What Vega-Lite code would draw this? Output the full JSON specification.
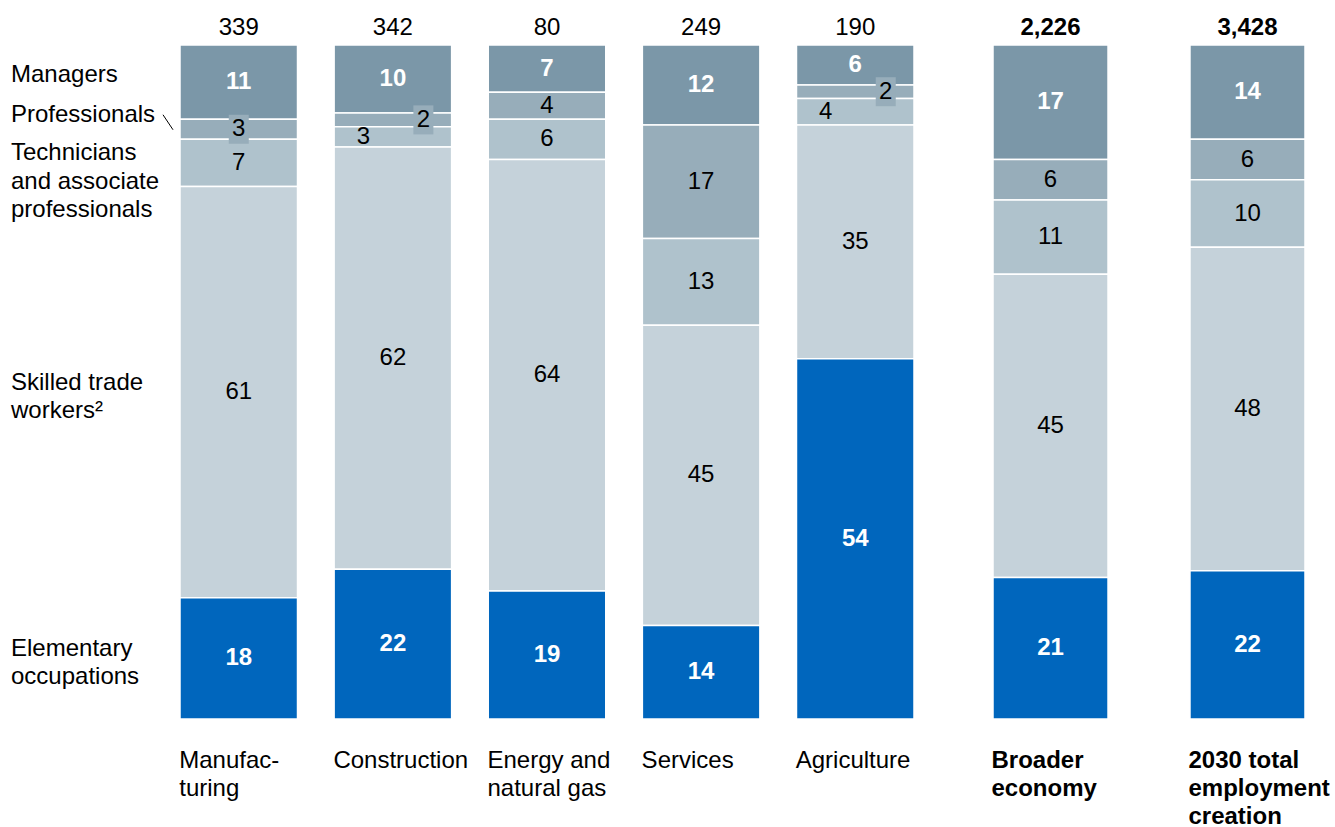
{
  "$schema": "https://vega.github.io/schema/vega-lite/v6.json",
  "padding": {"left": 11, "top": 16, "right": 0, "bottom": 0},
  "background": "white",
  "config": {"view": {"stroke": null}, "font": "Liberation Sans"},
  "datasets": {
    "occ": [
      {"sector": "Manufacturing", "occupation": "Managers", "value": 11},
      {"sector": "Manufacturing", "occupation": "Professionals", "value": 3},
      {"sector": "Manufacturing", "occupation": "Technicians\nand associate\nprofessionals", "value": 7},
      {"sector": "Manufacturing", "occupation": "Skilled trade\nworkers²", "value": 61},
      {"sector": "Manufacturing", "occupation": "Elementary\noccupations", "value": 18},
      {"sector": "Construction", "occupation": "Managers", "value": 10},
      {"sector": "Construction", "occupation": "Professionals", "value": 2},
      {"sector": "Construction", "occupation": "Technicians\nand associate\nprofessionals", "value": 3},
      {"sector": "Construction", "occupation": "Skilled trade\nworkers²", "value": 62},
      {"sector": "Construction", "occupation": "Elementary\noccupations", "value": 22},
      {"sector": "Energy and natural gas", "occupation": "Managers", "value": 7},
      {"sector": "Energy and natural gas", "occupation": "Professionals", "value": 4},
      {"sector": "Energy and natural gas", "occupation": "Technicians\nand associate\nprofessionals", "value": 6},
      {"sector": "Energy and natural gas", "occupation": "Skilled trade\nworkers²", "value": 64},
      {"sector": "Energy and natural gas", "occupation": "Elementary\noccupations", "value": 19},
      {"sector": "Services", "occupation": "Managers", "value": 12},
      {"sector": "Services", "occupation": "Professionals", "value": 17},
      {"sector": "Services", "occupation": "Technicians\nand associate\nprofessionals", "value": 13},
      {"sector": "Services", "occupation": "Skilled trade\nworkers²", "value": 45},
      {"sector": "Services", "occupation": "Elementary\noccupations", "value": 14},
      {"sector": "Agriculture", "occupation": "Managers", "value": 6},
      {"sector": "Agriculture", "occupation": "Professionals", "value": 2},
      {"sector": "Agriculture", "occupation": "Technicians\nand associate\nprofessionals", "value": 4},
      {"sector": "Agriculture", "occupation": "Skilled trade\nworkers²", "value": 35},
      {"sector": "Agriculture", "occupation": "Elementary\noccupations", "value": 54},
      {"sector": "Broader economy", "occupation": "Managers", "value": 17},
      {"sector": "Broader economy", "occupation": "Professionals", "value": 6},
      {"sector": "Broader economy", "occupation": "Technicians\nand associate\nprofessionals", "value": 11},
      {"sector": "Broader economy", "occupation": "Skilled trade\nworkers²", "value": 45},
      {"sector": "Broader economy", "occupation": "Elementary\noccupations", "value": 21},
      {"sector": "2030 total employment creation", "occupation": "Managers", "value": 14},
      {"sector": "2030 total employment creation", "occupation": "Professionals", "value": 6},
      {"sector": "2030 total employment creation", "occupation": "Technicians\nand associate\nprofessionals", "value": 10},
      {"sector": "2030 total employment creation", "occupation": "Skilled trade\nworkers²", "value": 48},
      {"sector": "2030 total employment creation", "occupation": "Elementary\noccupations", "value": 22}
    ],
    "totals": [
      {"sector": "Manufacturing", "total": "339"},
      {"sector": "Construction", "total": "342"},
      {"sector": "Energy and natural gas", "total": "80"},
      {"sector": "Services", "total": "249"},
      {"sector": "Agriculture", "total": "190"},
      {"sector": "Broader economy", "total": "2,226"},
      {"sector": "2030 total employment creation", "total": "3,428"}
    ]
  },
  "hconcat": [
    {
      "width": 734,
      "height": 674,
      "layer": [
        {
          "data": {"name": "occ"},
          "transform": [
            {"filter": {"field": "sector", "oneOf": ["Manufacturing", "Construction", "Energy and natural gas", "Services", "Agriculture"]}},
            {"calculate": "test(/^Elementary/, datum.occupation) ? 0 : test(/^Skilled/, datum.occupation) ? 1 : test(/^Technicians/, datum.occupation) ? 2 : datum.occupation == 'Professionals' ? 3 : 4", "as": "rank"},
            {"stack": "value", "groupby": ["sector"], "sort": [{"field": "rank", "order": "ascending"}], "offset": "normalize", "as": ["y0", "y1"]},
            {"calculate": "(datum.y0 + datum.y1) / 2", "as": "mid"}
          ],
          "layer": [
            {
              "mark": {"type": "bar", "stroke": "white", "strokeWidth": 1.5},
              "encoding": {
                "x": {
                  "field": "sector", "type": "nominal", "sort": null,
                  "scale": {"domain": ["Manufacturing", "Construction", "Energy and natural gas", "Services", "Agriculture"], "paddingInner": 0.2375, "paddingOuter": 0},
                  "axis": {
                    "title": null, "domain": false, "ticks": false, "tickSize": 0, "labelAngle": 0,
                    "labelAlign": "left", "labelBaseline": "top", "labelOffset": -59.5,
                    "labelPadding": 29, "labelFontSize": 24, "labelColor": "black",
                    "labelLineHeight": 28, "labelLimit": 400, "labelOverlap": false,
                    "labelExpr": "datum.value == 'Manufacturing' ? ['Manufac-', 'turing'] : datum.value == 'Energy and natural gas' ? ['Energy and', 'natural gas'] : datum.value"
                  }
                },
                "y": {"field": "y1", "type": "quantitative", "scale": {"domain": [0, 1], "nice": false}, "axis": null},
                "y2": {"field": "y0"},
                "color": {
                  "field": "occupation", "type": "nominal", "legend": null,
                  "scale": {
                    "domain": ["Managers", "Professionals", "Technicians\nand associate\nprofessionals", "Skilled trade\nworkers²", "Elementary\noccupations"],
                    "range": ["#7B97A8", "#97ADBA", "#AFC2CC", "#C5D2DA", "#0066BD"]
                  }
                }
              }
            },
            {
              "transform": [{"filter": "datum.occupation == 'Professionals' && datum.sector == 'Manufacturing'"}],
              "mark": {"type": "point", "shape": "M-0.69,-1H0.69V1H-0.69Z", "size": 841, "filled": true, "fill": "#97ADBA", "opacity": 1, "strokeWidth": 0},
              "encoding": {
                "x": {"field": "sector", "type": "nominal"},
                "y": {"field": "mid", "type": "quantitative"}
              }
            },
            {
              "transform": [{"filter": "datum.occupation == 'Professionals' && (datum.sector == 'Construction' || datum.sector == 'Agriculture')"}],
              "mark": {"type": "point", "shape": "M-0.69,-1H0.69V1H-0.69Z", "size": 841, "filled": true, "fill": "#97ADBA", "opacity": 1, "strokeWidth": 0, "xOffset": 30.5},
              "encoding": {
                "x": {"field": "sector", "type": "nominal"},
                "y": {"field": "mid", "type": "quantitative"}
              }
            },
            {
              "transform": [{"filter": "datum.occupation == 'Managers' || test(/^Elementary/, datum.occupation)"}],
              "mark": {"type": "text", "fontSize": 24, "fontWeight": "bold", "color": "white", "baseline": "middle"},
              "encoding": {
                "x": {"field": "sector", "type": "nominal"},
                "y": {"field": "mid", "type": "quantitative"},
                "text": {"field": "value", "type": "quantitative"}
              }
            },
            {
              "transform": [{"filter": "!(datum.occupation == 'Managers' || test(/^Elementary/, datum.occupation)) && !((datum.occupation == 'Professionals' || test(/^Technicians/, datum.occupation)) && (datum.sector == 'Construction' || datum.sector == 'Agriculture'))"}],
              "mark": {"type": "text", "fontSize": 24, "color": "black", "baseline": "middle"},
              "encoding": {
                "x": {"field": "sector", "type": "nominal"},
                "y": {"field": "mid", "type": "quantitative"},
                "text": {"field": "value", "type": "quantitative"}
              }
            },
            {
              "transform": [{"filter": "datum.occupation == 'Professionals' && (datum.sector == 'Construction' || datum.sector == 'Agriculture')"}],
              "mark": {"type": "text", "fontSize": 24, "color": "black", "baseline": "middle", "dx": 30.5},
              "encoding": {
                "x": {"field": "sector", "type": "nominal"},
                "y": {"field": "mid", "type": "quantitative"},
                "text": {"field": "value", "type": "quantitative"}
              }
            },
            {
              "transform": [{"filter": "test(/^Technicians/, datum.occupation) && (datum.sector == 'Construction' || datum.sector == 'Agriculture')"}],
              "mark": {"type": "text", "fontSize": 24, "color": "black", "baseline": "middle", "dx": -29.5},
              "encoding": {
                "x": {"field": "sector", "type": "nominal"},
                "y": {"field": "mid", "type": "quantitative"},
                "text": {"field": "value", "type": "quantitative"}
              }
            },
            {
              "transform": [{"filter": "datum.sector == 'Manufacturing' && datum.occupation != 'Managers' && datum.occupation != 'Professionals'"}],
              "mark": {"type": "text", "fontSize": 24, "color": "black", "align": "left", "baseline": "alphabetic", "dx": -169, "dy": -2.5, "lineBreak": "\n", "lineHeight": 28.5},
              "encoding": {
                "x": {"field": "sector", "type": "nominal", "bandPosition": 0},
                "y": {"field": "mid", "type": "quantitative"},
                "text": {"field": "occupation", "type": "nominal"}
              }
            },
            {
              "transform": [{"filter": "datum.sector == 'Manufacturing' && datum.occupation == 'Managers'"}],
              "mark": {"type": "text", "fontSize": 24, "color": "black", "align": "left", "baseline": "alphabetic", "dx": -169, "dy": -0.5},
              "encoding": {
                "x": {"field": "sector", "type": "nominal", "bandPosition": 0},
                "y": {"field": "mid", "type": "quantitative"},
                "text": {"field": "occupation", "type": "nominal"}
              }
            },
            {
              "transform": [{"filter": "datum.sector == 'Manufacturing' && datum.occupation == 'Professionals'"}],
              "mark": {"type": "text", "fontSize": 24, "color": "black", "align": "left", "baseline": "alphabetic", "dx": -169, "dy": -7.5},
              "encoding": {
                "x": {"field": "sector", "type": "nominal", "bandPosition": 0},
                "y": {"field": "mid", "type": "quantitative"},
                "text": {"field": "occupation", "type": "nominal"}
              }
            },
            {
              "transform": [{"filter": "datum.occupation == 'Professionals' && datum.sector == 'Manufacturing'"}],
              "mark": {"type": "point", "shape": "M-0.667,-1L0.667,1", "size": 225, "filled": false, "stroke": "black", "strokeWidth": 1, "opacity": 1, "xOffset": -12, "yOffset": -7},
              "encoding": {
                "x": {"field": "sector", "type": "nominal", "bandPosition": 0},
                "y": {"field": "mid", "type": "quantitative"}
              }
            }
          ]
        },
        {
          "data": {"name": "totals"},
          "transform": [{"filter": {"field": "sector", "oneOf": ["Manufacturing", "Construction", "Energy and natural gas", "Services", "Agriculture"]}}],
          "mark": {"type": "text", "fontSize": 24, "color": "black", "baseline": "alphabetic", "dy": -10},
          "encoding": {
            "x": {"field": "sector", "type": "nominal"},
            "y": {"datum": 1, "type": "quantitative"},
            "text": {"field": "total", "type": "nominal"}
          }
        }
      ]
    },
    {
      "width": 312,
      "height": 674,
      "layer": [
        {
          "data": {"name": "occ"},
          "transform": [
            {"filter": {"field": "sector", "oneOf": ["Broader economy", "2030 total employment creation"]}},
            {"calculate": "test(/^Elementary/, datum.occupation) ? 0 : test(/^Skilled/, datum.occupation) ? 1 : test(/^Technicians/, datum.occupation) ? 2 : datum.occupation == 'Professionals' ? 3 : 4", "as": "rank"},
            {"stack": "value", "groupby": ["sector"], "sort": [{"field": "rank", "order": "ascending"}], "offset": "normalize", "as": ["y0", "y1"]},
            {"calculate": "(datum.y0 + datum.y1) / 2", "as": "mid"}
          ],
          "layer": [
            {
              "mark": {"type": "bar", "stroke": "white", "strokeWidth": 1.5},
              "encoding": {
                "x": {
                  "field": "sector", "type": "nominal", "sort": null,
                  "scale": {"domain": ["Broader economy", "2030 total employment creation"], "paddingInner": 0.416, "paddingOuter": 0},
                  "axis": {
                    "title": null, "domain": false, "ticks": false, "tickSize": 0, "labelAngle": 0,
                    "labelAlign": "left", "labelBaseline": "top", "labelOffset": -59,
                    "labelPadding": 29, "labelFontSize": 24, "labelFontWeight": "bold", "labelColor": "black",
                    "labelLineHeight": 28, "labelLimit": 400, "labelOverlap": false,
                    "labelExpr": "datum.value == 'Broader economy' ? ['Broader', 'economy'] : ['2030 total', 'employment', 'creation']"
                  }
                },
                "y": {"field": "y1", "type": "quantitative", "scale": {"domain": [0, 1], "nice": false}, "axis": null},
                "y2": {"field": "y0"},
                "color": {
                  "field": "occupation", "type": "nominal", "legend": null,
                  "scale": {
                    "domain": ["Managers", "Professionals", "Technicians\nand associate\nprofessionals", "Skilled trade\nworkers²", "Elementary\noccupations"],
                    "range": ["#7B97A8", "#97ADBA", "#AFC2CC", "#C5D2DA", "#0066BD"]
                  }
                }
              }
            },
            {
              "transform": [{"filter": "datum.occupation == 'Managers' || test(/^Elementary/, datum.occupation)"}],
              "mark": {"type": "text", "fontSize": 24, "fontWeight": "bold", "color": "white", "baseline": "middle"},
              "encoding": {
                "x": {"field": "sector", "type": "nominal"},
                "y": {"field": "mid", "type": "quantitative"},
                "text": {"field": "value", "type": "quantitative"}
              }
            },
            {
              "transform": [{"filter": "!(datum.occupation == 'Managers' || test(/^Elementary/, datum.occupation))"}],
              "mark": {"type": "text", "fontSize": 24, "color": "black", "baseline": "middle"},
              "encoding": {
                "x": {"field": "sector", "type": "nominal"},
                "y": {"field": "mid", "type": "quantitative"},
                "text": {"field": "value", "type": "quantitative"}
              }
            }
          ]
        },
        {
          "data": {"name": "totals"},
          "transform": [{"filter": {"field": "sector", "oneOf": ["Broader economy", "2030 total employment creation"]}}],
          "mark": {"type": "text", "fontSize": 24, "fontWeight": "bold", "color": "black", "baseline": "alphabetic", "dy": -10},
          "encoding": {
            "x": {"field": "sector", "type": "nominal"},
            "y": {"datum": 1, "type": "quantitative"},
            "text": {"field": "total", "type": "nominal"}
          }
        }
      ]
    }
  ],
  "spacing": 79,
  "bounds": "flush"
}
